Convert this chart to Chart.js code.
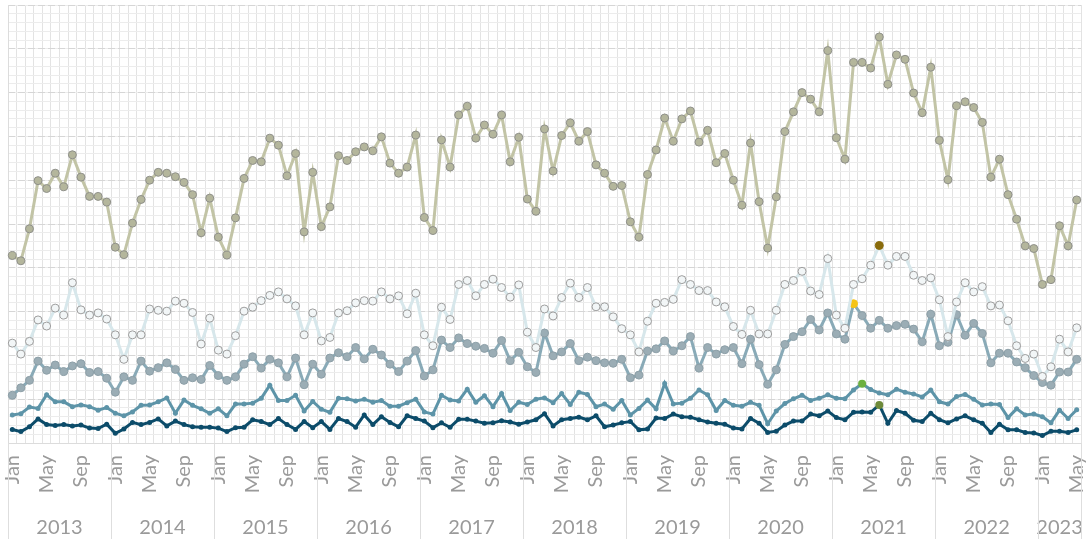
<!DOCTYPE html>
<html>
<head>
<meta charset="utf-8">
<script src="https://cdn.jsdelivr.net/npm/chart.js@4.4.1/dist/chart.umd.min.js"></script>
<style>
  html, body { margin: 0; padding: 0; background: #ffffff; }
  #wrap { width: 1092px; height: 539px; position: relative; }
</style>
</head>
<body>
<div id="wrap"><canvas id="c" width="1092" height="539"></canvas></div>
<script>
// ---- categories ----
const years = ['2013','2014','2015','2016','2017','2018','2019','2020','2021','2022','2023'];
const monthNames = ['Jan','Feb','Mar','Apr','May','Jun','Jul','Aug','Sep','Oct','Nov','Dec'];
const monthsInLastYear = 5; // data runs to May 2023
const shownMonthTicks = ['Jan','May','Sep'];

// ---- series values (0-100 relative units) ----
const seriesOlive = [
  42.8,41.6,48.9,59.9,58.1,61.6,58.5,65.8,60.7,56.3,56.3,55.0,
  44.7,43.0,50.2,55.6,60.0,61.8,61.6,60.8,59.5,56.7,48.0,55.9,
  47.0,42.9,51.4,60.4,64.5,64.2,69.6,68.0,61.0,66.1,48.2,61.8,
  49.4,53.9,65.6,64.5,66.5,67.6,66.7,69.9,63.9,61.6,63.0,70.3,
  51.5,48.5,69.2,63.0,74.9,76.9,69.6,72.6,70.5,74.9,64.2,69.8,
  55.7,52.9,71.7,62.1,70.2,73.1,68.9,71.1,63.5,61.6,58.6,58.8,
  50.5,47.0,61.3,66.9,74.2,68.9,74.0,75.8,68.7,71.4,64.0,66.1,
  60.0,54.3,68.5,55.1,44.5,56.2,71.1,75.6,80.0,78.5,75.6,89.6,
  69.7,64.8,86.9,86.9,85.6,92.7,81.9,88.6,87.6,79.9,75.4,85.8,
  69.1,60.1,77.0,77.9,76.6,73.2,60.7,64.8,56.7,51.1,45.0,44.4,
  36.2,37.3,49.6,45.0,55.5
];
const seriesLight = [
  22.8,20.3,23.2,28.1,26.7,30.8,29.2,36.6,30.4,29.2,29.7,28.3,
  24.7,19.1,24.7,24.7,30.6,30.3,30.1,32.4,31.9,29.8,22.6,28.5,
  21.2,20.3,24.5,30.1,31.0,32.5,33.7,34.5,32.9,31.3,24.7,29.7,
  23.3,24.1,29.7,30.2,32.0,32.5,32.4,34.5,32.9,33.6,29.5,34.2,
  24.7,22.2,31.0,28.2,36.2,37.1,33.6,36.2,37.4,35.5,33.3,36.1,
  25.3,21.8,30.6,29.0,33.2,36.5,33.2,35.5,31.1,31.1,28.8,26.1,
  24.7,20.8,27.8,31.9,32.1,32.8,37.3,36.2,34.8,34.8,32.2,31.1,
  26.6,24.8,30.3,24.9,24.9,30.3,36.2,37.1,39.2,34.7,33.9,42.1,
  29.2,26.2,36.2,37.5,40.6,45.1,40.6,42.6,42.6,38.3,37.1,37.7,
  32.7,24.3,32.2,36.6,34.5,35.7,31.3,31.5,27.9,22.2,19.3,20.3,
  15.2,17.4,23.7,20.8,26.3
];
const seriesSteel = [
  10.9,12.6,14.3,18.7,16.6,17.8,16.3,17.6,18.1,16.1,16.3,14.8,
  11.6,15.1,14.3,18.7,16.4,17.2,18.3,16.8,14.3,14.9,14.5,17.7,
  15.4,14.3,15.1,18.0,19.7,17.1,19.1,18.3,15.1,19.4,13.3,18.0,
  15.7,19.4,20.6,19.7,21.8,19.2,21.4,20.1,18.0,16.3,18.7,21.1,
  15.3,16.7,23.5,21.8,24.0,22.7,22.1,21.6,20.5,23.4,18.8,20.7,
  17.4,16.1,25.1,19.9,20.8,22.7,18.8,19.6,18.8,18.3,18.2,19.1,
  14.9,15.5,21.0,21.5,23.3,21.0,22.2,24.3,17.1,21.8,20.3,21.3,
  21.8,18.1,23.7,17.9,13.4,16.7,22.5,24.3,25.4,28.2,25.8,29.7,
  24.9,23.7,31.8,29.1,26.2,28.0,26.2,26.8,27.1,26.0,23.1,29.4,
  22.2,23.0,29.3,24.6,27.3,25.0,18.3,20.5,20.5,18.5,17.2,15.4,
  13.8,13.2,16.2,16.2,19.1
];
const seriesTeal = [
  6.4,6.7,8.2,7.9,11.0,9.4,9.4,8.3,8.7,8.3,7.5,8.1,
  6.8,6.2,7.1,8.6,8.7,9.4,10.3,6.8,9.8,8.6,7.8,6.8,
  7.8,6.2,8.9,8.9,9.1,10.2,13.2,9.7,9.7,10.9,7.3,9.5,
  7.7,7.0,10.2,10.1,9.6,10.0,9.3,9.7,8.4,8.4,9.2,10.0,
  7.1,6.6,10.9,9.8,9.6,12.3,9.3,10.8,8.3,11.3,7.4,9.3,
  8.8,10.0,10.3,9.2,11.3,8.8,11.6,11.1,8.3,8.9,7.7,9.7,
  6.4,7.9,9.8,7.8,13.6,8.9,9.1,10.2,12.1,11.0,7.4,9.7,
  8.6,8.4,9.3,8.6,4.4,7.3,9.0,10.1,10.9,9.7,10.2,11.0,
  10.2,10.1,12.1,13.5,12.2,11.4,11.0,12.3,11.6,11.2,10.5,12.1,
  9.4,8.9,10.6,11.1,10.0,8.7,8.9,8.8,5.8,7.8,6.4,6.6,
  6.0,4.6,7.5,5.6,7.6
];
const seriesNavy = [
  3.1,2.6,3.7,5.5,4.2,4.0,4.2,3.9,4.1,3.4,3.3,4.3,
  2.2,3.2,4.7,4.2,4.7,5.5,3.9,5.0,4.2,3.7,3.6,3.6,
  3.4,2.6,3.5,3.6,5.3,4.9,4.2,5.6,4.2,3.1,4.9,3.5,
  4.9,3.1,5.6,4.9,3.6,6.4,4.2,6.0,4.7,3.7,6.2,5.6,
  5.0,3.5,4.6,3.6,5.4,5.4,5.0,4.5,4.6,5.1,4.8,4.3,
  4.8,5.3,6.7,3.9,5.3,5.6,5.9,5.3,6.2,3.7,4.1,4.6,
  4.9,3.0,3.2,5.7,5.6,6.6,6.0,5.9,5.3,4.8,4.5,4.3,
  3.4,3.2,5.6,4.5,2.4,2.7,4.1,5.0,5.0,6.6,6.2,7.3,
  5.8,5.3,7.0,7.1,7.0,8.7,4.5,7.4,6.8,5.2,4.9,6.8,
  5.3,4.6,5.5,6.2,5.3,4.5,2.4,4.3,3.0,3.0,2.4,2.3,
  1.7,2.7,2.7,2.4,3.0
];

// highlighted points
const highlightLight = { index: 101, color: '#8a6c0c' };
const highlightSteel = { index: 98,  color: '#f6c417' };
const highlightTeal  = { index: 99,  color: '#6cb040' };
const highlightNavy  = { index: 101, color: '#6d8a3a' };

// ---- build month labels ----
const labels = [];
const monthOfIndex = [];
years.forEach((y, yi) => {
  const n = (yi === years.length - 1) ? monthsInLastYear : 12;
  for (let m = 0; m < n; m++) { labels.push(monthNames[m] + ' ' + y); monthOfIndex.push(monthNames[m]); }
});
const N = labels.length;

// year boundaries / centres in index units
const yearBounds = [];
const yearCentres = [];
{
  let start = 0;
  years.forEach((y, yi) => {
    const n = (yi === years.length - 1) ? monthsInLastYear : 12;
    yearBounds.push(start - 0.5);
    yearCentres.push({ value: start + (n - 1) / 2, label: y });
    start += n;
  });
  yearBounds.push(start - 0.5);
}

const FONT = 'Lato, "Noto Sans", sans-serif';
const TXT = '#9a9a9a';

function hl(h, base) { return (ctx) => ctx.dataIndex === h.index ? h.color : base; }
function hlR(h, base, big) { return (ctx) => ctx.dataIndex === h.index ? big : base; }
function noPad(s) { s.paddingLeft = 0; s.paddingRight = 0; }

const separatorPlugin = {
  id: 'yearSeparators',
  afterDraw(chart) {
    const x2 = chart.scales.x2;
    const c = chart.ctx;
    c.save();
    c.strokeStyle = '#dedede';
    c.lineWidth = 1;
    yearBounds.forEach(b => {
      const px = Math.round(x2.getPixelForValue(b)) + 0.5;
      c.beginPath();
      c.moveTo(px, chart.chartArea.bottom);
      c.lineTo(px, chart.height);
      c.stroke();
    });
    c.restore();
  }
};

new Chart(document.getElementById('c'), {
  type: 'line',
  data: {
    labels: labels,
    datasets: [
      { label: 'Olive', data: seriesOlive, borderColor: '#c2c4a6', borderWidth: 3,
        pointRadius: 4, pointBackgroundColor: '#b4b69c', pointBorderColor: '#8f908a', pointBorderWidth: 1 },
      { label: 'Light', data: seriesLight, borderColor: '#d7e7eb', borderWidth: 3,
        pointRadius: 4, pointBackgroundColor: hl(highlightLight, '#f2f6f7'),
        pointBorderColor: hl(highlightLight, '#9d9d9d'), pointBorderWidth: 1 },
      { label: 'Steel', data: seriesSteel, borderColor: '#89aab7', borderWidth: 3,
        pointRadius: 4, pointBackgroundColor: hl(highlightSteel, '#9badb5'),
        pointBorderColor: hl(highlightSteel, '#8d9fa7'), pointBorderWidth: 1 },
      { label: 'Teal', data: seriesTeal, borderColor: '#5d94a8', borderWidth: 3,
        pointRadius: hlR(highlightTeal, 2.5, 4), pointBackgroundColor: hl(highlightTeal, '#5d94a8'),
        pointBorderColor: hl(highlightTeal, '#5d94a8'), pointBorderWidth: 0 },
      { label: 'Navy', data: seriesNavy, borderColor: '#0c4c6a', borderWidth: 3,
        pointRadius: hlR(highlightNavy, 2.5, 4), pointBackgroundColor: hl(highlightNavy, '#0c4c6a'),
        pointBorderColor: hl(highlightNavy, '#0c4c6a'), pointBorderWidth: 0 }
    ]
  },
  options: {
    responsive: false,
    animation: false,
    devicePixelRatio: 1,
    layout: { padding: { left: 8, right: 11, top: 5, bottom: 0 } },
    elements: { line: { tension: 0 } },
    plugins: { legend: { display: false }, tooltip: { enabled: false } },
    scales: {
      x: {
        type: 'category',
        position: 'bottom',
        offset: true,
        grid: { offset: true, color: '#e3e3e3', lineWidth: 1, drawTicks: false },
        border: { display: true, color: '#dcdcdc' },
        ticks: {
          autoSkip: false, minRotation: 90, maxRotation: 90, padding: 12,
          color: TXT, font: { family: FONT, size: 20 },
          callback: (v, i) => shownMonthTicks.includes(monthOfIndex[i]) ? monthOfIndex[i] : ''
        },
        afterFit: (s) => { s.height = 52; noPad(s); }
      },
      x2: {
        type: 'linear',
        position: 'bottom',
        min: -0.5, max: N - 0.5,
        grid: { display: false, drawTicks: false },
        border: { display: false },
        afterBuildTicks: (s) => { s.ticks = yearCentres.map(t => ({ value: t.value })); },
        ticks: {
          autoSkip: false, maxRotation: 0, padding: 21, color: TXT,
          font: { family: FONT, size: 20 },
          callback: (v) => { const t = yearCentres.find(c => c.value === v); return t ? t.label : ''; }
        },
        afterFit: (s) => { s.height = 44; noPad(s); }
      },
      y: {
        position: 'left',
        min: 0, max: 100,
        grid: { color: '#ececec', lineWidth: 1, drawTicks: false },
        border: { display: true, color: '#dcdcdc' },
        ticks: { display: false, stepSize: 2 },
        afterFit: (s) => { s.width = 0; s.paddingTop = 0; s.paddingBottom = 0; }
      },
      y2: {
        position: 'left',
        min: 0, max: 100,
        grid: { color: '#d6d6d6', lineWidth: 1, drawTicks: false },
        border: { display: false, dash: [7, 3] },
        ticks: { display: false, stepSize: 10 },
        afterFit: (s) => { s.width = 0; s.paddingTop = 0; s.paddingBottom = 0; }
      }
    }
  },
  plugins: [separatorPlugin]
});
</script>
</body>
</html>
